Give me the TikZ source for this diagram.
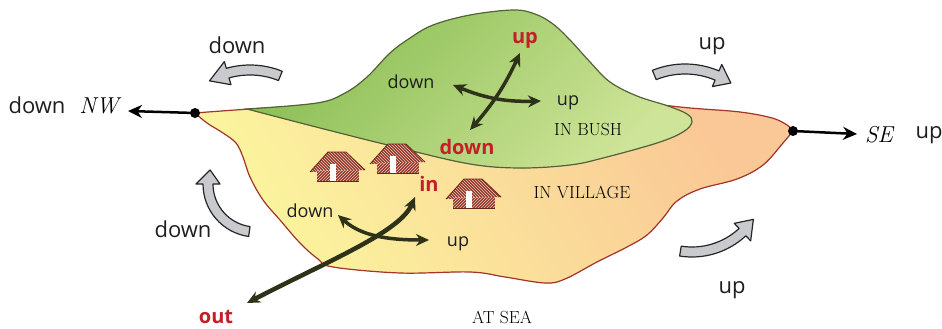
\documentclass[tikz,border=0pt]{standalone}
\usepackage{fontspec}
\setsansfont{Open Sans}
\usetikzlibrary{calc,arrows.meta,patterns}
\definecolor{villyellow}{RGB}{251,245,158}
\definecolor{villorange}{RGB}{250,199,150}
\definecolor{villedge}{RGB}{163,52,40}
\definecolor{bushdark}{RGB}{138,190,84}
\definecolor{bushlight}{RGB}{206,228,152}
\definecolor{bushedge}{RGB}{84,98,56}
\definecolor{arrowdark}{RGB}{46,50,24}
\definecolor{labred}{RGB}{196,30,40}
\definecolor{greyfill}{RGB}{200,202,205}
\definecolor{hutbrown}{RGB}{150,52,34}
\definecolor{textgrey}{RGB}{30,30,30}
\tikzset{
    x=1pt, y=1pt, % one unit is one pixel of the picture
    biglabel/.style={font=\sffamily\fontsize{22}{26}\selectfont, text=textgrey},
    smalllabel/.style={font=\sffamily\fontsize{18}{22}\selectfont, text=textgrey},
    redlabel/.style={font=\sffamily\bfseries\fontsize{20}{24}\selectfont, text=labred},
    placelabel/.style={font=\fontsize{17.5}{21}\selectfont, text=black},
    compass/.style={font=\itshape\fontsize{23}{27}\selectfont, text=black},
    crossarrow/.style={draw=arrowdark, line width=3.5, >={Stealth[length=13pt,width=12pt]}, <->},
    blackarrow/.style={draw=black, line width=2.5, -{Stealth[length=14pt,width=13pt]}},
    dot/.style={circle, fill=black, inner sep=0pt, minimum size=10pt},
    grayarrow/.style={fill=greyfill, draw=black!85, line width=1.2, line join=round},
    hut/.pic={
      \fill[hutbrown] (-20,0) rectangle (22,11);
      \fill[hutbrown] (-27,9) -- (-9,29) -- (9,29) -- (28,11) -- cycle;
      \fill[pattern=north east lines, pattern color=hutbrown!25] (-20,0) rectangle (22,11);
      \fill[pattern=north west lines, pattern color=hutbrown!25] (-27,9) -- (-9,29) -- (9,29) -- (28,11) -- cycle;
      \draw[hutbrown!70!black, line width=0.8] (-27,9) -- (-9,29) -- (9,29) -- (28,11);
      \draw[hutbrown!70!black, line width=0.6] (-20,0) -- (22,0);
      \fill[white] (-7,0) rectangle (-1,17);
    },
}
% curved block arrow: centre, radius, tail angle, head angle, tip angle
\newcommand{\grayarc}[5]{%
  \filldraw[grayarrow] ($(#1)+({#3}:{#2+5})$) arc[start angle=#3, end angle=#4, radius=#2+5]
    -- ($(#1)+({#4}:{#2+12})$) -- ($(#1)+({#5}:{#2})$) -- ($(#1)+({#4}:{#2-12})$)
    -- ($(#1)+({#4}:{#2-5})$) arc[start angle=#4, end angle=#3, radius=#2-5] -- cycle;}

\begin{document}
\begin{tikzpicture}
  \useasboundingbox (0,0) rectangle (942,-329);

  % the village, whole island
  \filldraw[draw=villedge, line width=1.2, left color=villyellow, right color=villorange, shading angle=120]
    plot[smooth, tension=0.6] coordinates {(195,-113) (250,-109) (320,-105) (450,-100) (600,-100) (690,-108) (740,-112) (772,-118) (787,-125) (793,-131)}
    -- plot[smooth, tension=0.6] coordinates {(793,-131) (783,-143) (763,-165) (737,-179) (700,-189) (677,-201) (663,-218) (647,-235) (627,-247) (597,-262) (565,-279) (545,-283) (505,-277) (470,-272) (400,-273) (333,-267) (318,-259) (300,-243) (280,-220) (263,-200) (250,-177) (243,-157) (236,-143) (223,-133) (207,-123) (195,-113)}
    -- cycle;

  % the bush
  \filldraw[draw=bushedge, line width=1.2, left color=bushdark, right color=bushlight, shading angle=45]
    plot[smooth, tension=0.6] coordinates {(247,-109) (317,-103) (345,-93) (367,-77) (390,-53) (410,-38) (433,-25) (470,-15) (513,-10) (535,-14) (553,-24) (570,-40) (590,-62) (610,-82) (637,-96) (668,-106) (687,-114) (692,-122) (683,-132) (657,-143) (603,-158) (570,-165) (520,-168) (470,-164) (400,-148) (320,-128) (247,-109)}
    -- cycle;

  \pic at (337,-181) {hut};
  \pic at (397,-173) {hut};
  \pic at (473,-208) {hut};

  % grey turning arrows
  \coordinate (tlc) at (250,-151);
  \coordinate (trc) at (685,-151);
  \coordinate (blc) at (256,-184);
  \coordinate (brc) at (692,-178);
  \grayarc{tlc}{81}{68}{106}{120}
  \grayarc{trc}{82}{112}{67}{56}
  \grayarc{blc}{48}{262}{180}{163}
  \grayarc{brc}{74}{261}{313}{326}

  % NW and SE ends
  \node[dot] (nwdot) at (195,-113) {};
  \node[dot] (sedot) at (793,-131) {};
  \coordinate (nwtip) at (128,-111);
  \coordinate (setip) at (857,-134);
  \draw[blackarrow] (nwdot.center) -- (nwtip);
  \draw[blackarrow] (sedot.center) -- (setip);

  % crossing arrows
  \coordinate (bushW) at (453,-85);
  \coordinate (bushE) at (541,-101);
  \coordinate (bushS) at (470,-130);
  \coordinate (bushN) at (520,-53);
  \coordinate (villW) at (338,-215);
  \coordinate (villE) at (429,-240);
  \coordinate (seaout) at (247,-303);
  \coordinate (villin) at (415,-197);
  \draw[crossarrow] (bushW) to[bend right=12] (bushE);
  \draw[crossarrow] (bushS) to[bend right=8] (bushN);
  \draw[crossarrow] (villW) .. controls (360,-235) and (385,-240) .. (villE);
  \draw[crossarrow, line width=4.5] (seaout) .. controls (330,-260) and (400,-232) .. (villin);

  \node[biglabel] (topdown) at (237,-45) {down};
  \node[biglabel] (nwdown) at (37,-105) {down};
  \node[compass] (nw) at (99,-106) {NW};
  \node[biglabel] (leftdown) at (183,-229) {down};
  \node[smalllabel] (villdown) at (310,-211) {down};
  \node[smalllabel] (villup) at (458,-244) {up};
  \node[redlabel] (villinlab) at (429,-184) {in};
  \node[redlabel] (outlab) at (216,-317) {out};
  \node[smalllabel] (bushdown) at (411,-82) {down};
  \node[smalllabel] (bushup) at (568,-103) {up};
  \node[placelabel] (bushlab) at (588,-130) {IN BUSH};
  \node[redlabel] (bushdownred) at (467,-147) {down};
  \node[redlabel] (bushupred) at (525,-40) {up};
  \node[placelabel] (villlab) at (582,-192) {IN VILLAGE};
  \node[placelabel] (sealab) at (502,-317) {AT SEA};
  \node[biglabel] (topup) at (712,-46) {up};
  \node[compass] (se) at (879,-135) {SE};
  \node[biglabel] (seup) at (929,-135) {up};
  \node[biglabel] (botup) at (732,-290) {up};
\end{tikzpicture}
\end{document}
